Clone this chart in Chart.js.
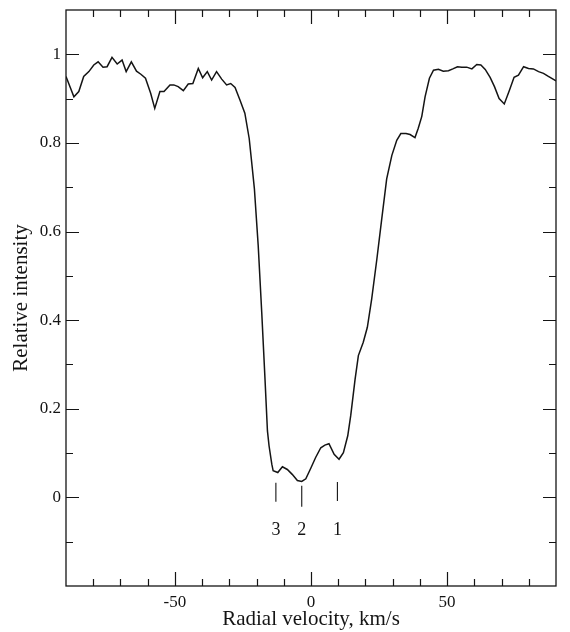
<!DOCTYPE html>
<html><head><meta charset="utf-8">
<script src="https://cdn.jsdelivr.net/npm/chart.js@4/dist/chart.umd.min.js"></script>
<style>html,body{margin:0;padding:0;background:#fff;}canvas{display:block;}</style>
</head><body>
<canvas id="c" width="570" height="632"></canvas>
<script>
// Radial velocity (km/s) and relative intensity of the line profile
const velocity = [-90,-87.1,-85.3,-83.5,-81.6,-79.8,-78.2,-76.4,-74.9,-73.1,-71.2,-69.4,-67.9,-66.0,-64.1,-62.5,-60.8,-58.9,-57.4,-55.5,-54.0,-51.8,-50.4,-48.8,-46.9,-45.1,-43.4,-41.4,-39.8,-38.1,-36.5,-34.7,-32.8,-31.0,-29.5,-27.9,-26.1,-24.3,-22.7,-21.8,-20.8,-19.4,-18.1,-16.9,-16.0,-15.4,-14.4,-13.9,-12.2,-10.5,-8.7,-6.9,-5.0,-3.4,-1.9,0.0,1.7,3.6,5.1,6.6,8.5,10.3,11.9,13.5,14.6,16.2,17.4,19.2,20.7,22.3,24.2,26.0,27.8,29.7,31.5,33.0,34.9,36.4,38.2,39.4,40.7,41.9,43.5,45.0,46.8,48.6,50.5,52.1,53.8,55.4,57.2,59.1,60.9,62.4,64.0,65.8,67.4,69.1,71.0,72.9,74.6,76.2,78.1,79.9,81.7,83.6,85.4,87.2,90.0];
const intensity = [0.950,0.904,0.916,0.950,0.961,0.976,0.983,0.971,0.972,0.993,0.978,0.987,0.961,0.983,0.962,0.955,0.946,0.912,0.878,0.916,0.916,0.931,0.931,0.927,0.918,0.933,0.934,0.968,0.947,0.961,0.942,0.961,0.944,0.931,0.934,0.925,0.897,0.867,0.810,0.757,0.697,0.569,0.418,0.267,0.150,0.116,0.075,0.060,0.056,0.069,0.063,0.052,0.038,0.036,0.042,0.067,0.090,0.112,0.118,0.121,0.097,0.086,0.101,0.139,0.185,0.267,0.320,0.350,0.384,0.448,0.538,0.629,0.719,0.772,0.806,0.821,0.821,0.819,0.812,0.833,0.860,0.904,0.946,0.964,0.966,0.962,0.963,0.967,0.972,0.971,0.971,0.967,0.977,0.976,0.966,0.948,0.927,0.900,0.888,0.919,0.948,0.953,0.972,0.968,0.967,0.961,0.957,0.950,0.940];

// Component markers
const componentVelocity = [-12.9, -3.4, 9.7];
const componentLabels = ['3', '2', '1'];
const componentTop = [0.033, 0.026, 0.035];
const componentBottom = [-0.010, -0.021, -0.008];
const componentLabelLevel = -0.074;

// Axes
const xRange = [-90, 90];
const yRange = [-0.2, 1.1];
const xTickLabels = [-50, 0, 50];
const yTickLabels = [0, 0.2, 0.4, 0.6, 0.8, 1];
const xMinorTicks = [-80, -70, -60, -50, -40, -30, -20, -10, 0, 10, 20, 30, 40, 50, 60, 70, 80];
const yMinorTicks = [-0.1, 0, 0.1, 0.2, 0.3, 0.4, 0.5, 0.6, 0.7, 0.8, 0.9, 1.0];

const serif = '"Liberation Serif", "Times New Roman", serif';
const ink = '#141414';

const profile = velocity.map((v, i) => ({x: v, y: intensity[i]}));
const markerSets = componentVelocity.map((v, i) => ({
  data: [{x: v, y: componentTop[i]}, {x: v, y: componentBottom[i]}],
  showLine: true, borderColor: ink, borderWidth: 1.1, pointRadius: 0, tension: 0
}));

const framePlugin = {
  id: 'frame',
  afterDraw(chart) {
    const {ctx, chartArea: a, scales: {x, y}} = chart;
    ctx.save();
    ctx.strokeStyle = ink;
    ctx.lineWidth = 1.3;
    ctx.strokeRect(a.left, a.top, a.right - a.left, a.bottom - a.top);
    ctx.lineWidth = 1.2;
    ctx.beginPath();
    xMinorTicks.forEach(v => {
      const px = Math.round(x.getPixelForValue(v)) + 0.5;
      const len = xTickLabels.includes(v) ? 14 : 7;
      ctx.moveTo(px, a.bottom); ctx.lineTo(px, a.bottom - len);
      ctx.moveTo(px, a.top); ctx.lineTo(px, a.top + len);
    });
    yMinorTicks.forEach(v => {
      const py = Math.round(y.getPixelForValue(v)) + 0.5;
      const len = yTickLabels.some(t => Math.abs(t - v) < 1e-9) ? 13 : 7;
      ctx.moveTo(a.left, py); ctx.lineTo(a.left + len, py);
      ctx.moveTo(a.right, py); ctx.lineTo(a.right - len, py);
    });
    ctx.stroke();
    ctx.fillStyle = ink;
    ctx.font = '18px ' + serif;
    ctx.textAlign = 'center';
    ctx.textBaseline = 'middle';
    componentVelocity.forEach((v, i) => {
      ctx.fillText(componentLabels[i], x.getPixelForValue(v), y.getPixelForValue(componentLabelLevel));
    });
    ctx.restore();
  }
};

new Chart(document.getElementById('c'), {
  type: 'scatter',
  data: {
    datasets: [{
      data: profile, showLine: true, borderColor: ink, borderWidth: 1.5,
      pointRadius: 0, tension: 0
    }, ...markerSets]
  },
  options: {
    responsive: false,
    animation: false,
    devicePixelRatio: 1,
    layout: {padding: {top: 10, right: 14, left: 0, bottom: 0}},
    plugins: {legend: {display: false}, tooltip: {enabled: false}},
    scales: {
      x: {
        type: 'linear', min: xRange[0], max: xRange[1],
        afterBuildTicks: s => { s.ticks = xTickLabels.map(v => ({value: v})); },
        afterFit: s => { s.height = 46; s.paddingLeft = 0; s.paddingRight = 0; },
        grid: {display: false, drawTicks: false},
        border: {display: false},
        ticks: {color: ink, padding: 6, font: {family: serif, size: 17}, maxRotation: 0,
          callback: v => String(v)},
        title: {display: true, text: 'Radial velocity, km/s', color: ink,
          font: {family: serif, size: 21}, padding: {top: 0, bottom: 0}}
      },
      y: {
        type: 'linear', min: yRange[0], max: yRange[1],
        afterBuildTicks: s => { s.ticks = yTickLabels.map(v => ({value: v})); },
        afterFit: s => { s.width = 66; s.paddingTop = 0; s.paddingBottom = 0; },
        grid: {display: false, drawTicks: false},
        border: {display: false},
        ticks: {color: ink, padding: 5, font: {family: serif, size: 17},
          callback: v => String(Math.round(v * 10) / 10)},
        title: {display: true, text: 'Relative intensity', color: ink,
          font: {family: serif, size: 21}, padding: {top: 9, bottom: 0}}
      }
    }
  },
  plugins: [framePlugin]
});
</script>
</body></html>
